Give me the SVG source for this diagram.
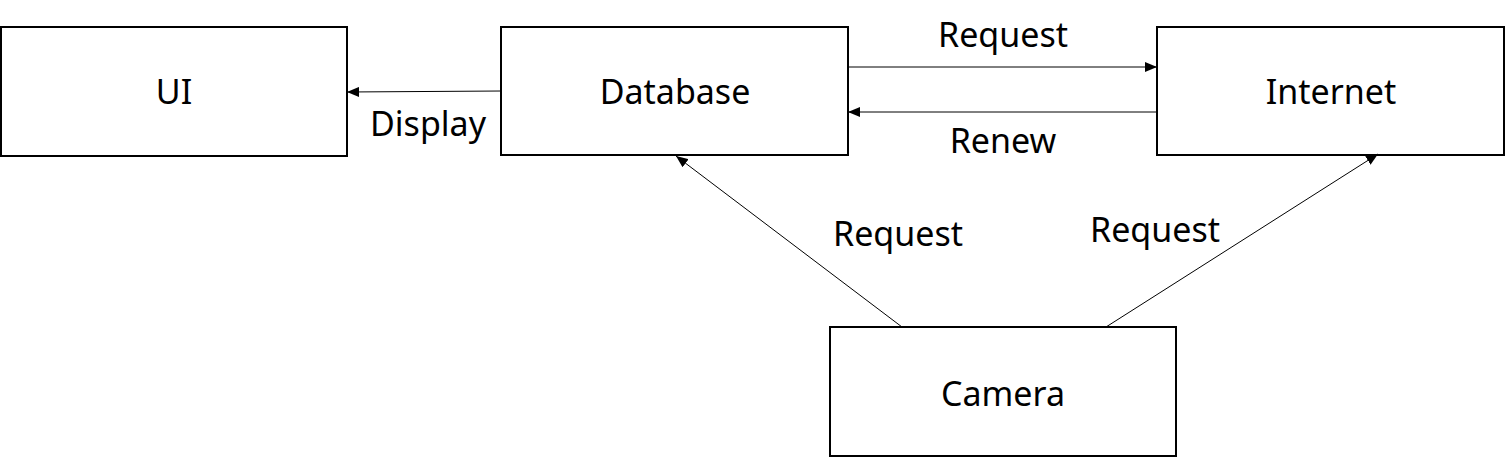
<svg xmlns="http://www.w3.org/2000/svg" width="1505" height="458" viewBox="0 0 1505 458">
<style>
.box{fill:#fff;stroke:#000;stroke-width:2}
.t{font-family:"Noto Sans","DejaVu Sans",sans-serif;font-size:34px;fill:#000;text-anchor:middle}
.c{stroke:#000;stroke-width:1;fill:none;marker-end:url(#ah)}
</style>
<defs>
<marker id="ah" viewBox="0 0 12 10" refX="12" refY="5" markerWidth="12" markerHeight="10" markerUnits="userSpaceOnUse" orient="auto">
<path d="M0,0 L12,5 L0,10 Z" fill="#000"/>
</marker>
</defs>
<rect width="1505" height="458" fill="#fff"/>
<g id="ui"><rect class="box" x="1" y="27" width="346" height="129"/><text class="t" x="174" y="104">UI</text></g>
<g id="database"><rect class="box" x="501" y="27" width="347" height="128"/><text class="t" x="675" y="104">Database</text></g>
<g id="internet"><rect class="box" x="1157" y="27" width="347" height="128"/><text class="t" x="1331" y="104">Internet</text></g>
<g id="camera"><rect class="box" x="830" y="327" width="346" height="129"/><text class="t" x="1003" y="406">Camera</text></g>
<g id="connectors">
<line class="c" x1="501" y1="91" x2="347" y2="92"/>
<line class="c" x1="848" y1="67" x2="1157" y2="67"/>
<line class="c" x1="1157" y1="112" x2="848" y2="112"/>
<line class="c" x1="902" y1="327" x2="676" y2="156"/>
<line class="c" x1="1106" y1="327" x2="1378" y2="154"/>
<text class="t" x="428" y="136">Display</text>
<text class="t" x="1003" y="47">Request</text>
<text class="t" x="1003" y="153">Renew</text>
<text class="t" x="898" y="246">Request</text>
<text class="t" x="1155" y="242">Request</text>
</g>
</svg>
